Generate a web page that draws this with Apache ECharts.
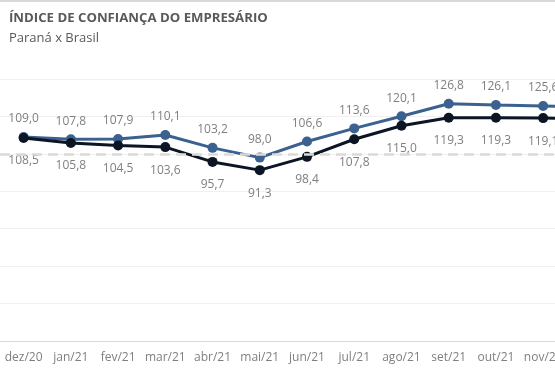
<!DOCTYPE html>
<html><head><meta charset="utf-8">
<script src="https://cdn.jsdelivr.net/npm/echarts@6/dist/echarts.min.js"></script>
<style>html,body{margin:0;padding:0;background:#fff}#c{width:555px;height:378px}</style>
</head><body><div id="c"></div>
<script>
const categories = ['dez/20','jan/21','fev/21','mar/21','abr/21','mai/21','jun/21','jul/21','ago/21','set/21','out/21','nov/21','dez/21'];
const parana = [109.0,107.8,107.9,110.1,103.2,98.0,106.6,113.6,120.1,126.8,126.1,125.6,125.0];
const brasil = [108.5,105.8,104.5,103.6,95.7,91.3,98.4,107.8,115.0,119.3,119.3,119.1,118.8];
const yTicks = {min:0,max:140,interval:20};
const refLine = 100;

const fmt = p => p.value.toFixed(1).replace('.', ',');
const labelFont = {color:'#7f7f7f', fontSize:12, fontFamily:'Open Sans'};
const chart = echarts.init(document.getElementById('c'));
chart.setOption({
  animation:false,
  title:{text:'ÍNDICE DE CONFIANÇA DO EMPRESÁRIO', subtext:'Paraná x Brasil', left:4, top:7,
    itemGap:7,
    textStyle:{fontFamily:'Open Sans', fontSize:13.2, fontWeight:'bold', color:'#595959'},
    subtextStyle:{fontFamily:'Open Sans', fontSize:13, color:'#595959'}},
  graphic:[{type:'line', shape:{x1:0,y1:1,x2:555,y2:1}, style:{stroke:'#d9d9d9', lineWidth:2}}],
  grid:{left:0, width:614, top:79, height:262, outerBoundsMode:'none', containLabel:false},
  xAxis:{type:'category', data:categories, boundaryGap:true,
    axisLine:{lineStyle:{color:'#d9d9d9'}}, axisTick:{show:false},
    axisLabel:{...labelFont, margin:11, interval:0}},
  yAxis:{type:'value', ...yTicks, axisLabel:{show:false}, axisLine:{show:false}, axisTick:{show:false},
    splitLine:{lineStyle:{color:'#f0f0f0'}}},
  series:[
    {name:'ref', type:'line', data:[], z:1, silent:true,
     markLine:{silent:true, symbol:'none', label:{show:false},
       lineStyle:{color:'#dcdad4', type:[10,6], width:2.5},
       data:[{yAxis:refLine}]}},
    {name:'Brasil', type:'line', data:brasil, symbol:'circle', symbolSize:10,
     lineStyle:{color:'#0c1524', width:3}, itemStyle:{color:'#0c1524'},
     label:{show:true, position:'bottom', distance:12, formatter:fmt, ...labelFont}, z:3},
    {name:'Paraná', type:'line', data:parana, symbol:'circle', symbolSize:10,
     lineStyle:{color:'#3a618f', width:3}, itemStyle:{color:'#3a618f'},
     label:{show:true, position:'top', distance:7, formatter:fmt, ...labelFont}, z:2}
  ]
});
</script></body></html>
